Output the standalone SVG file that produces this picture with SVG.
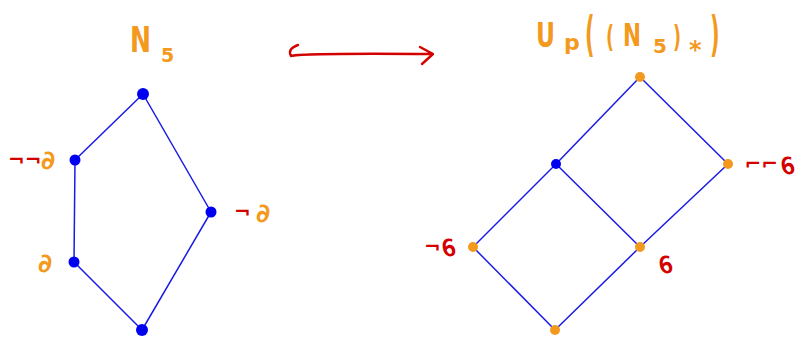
<svg xmlns="http://www.w3.org/2000/svg" width="796" height="339" viewBox="0 0 796 339">
<style>
.e{stroke:#1a1ae6;stroke-width:1.5;fill:none;stroke-linecap:round}
.b{fill:#0000f0}
.o{fill:#f39a1e}
.t{font-family:"DejaVu Sans","Liberation Sans",sans-serif;fill:#f39a1e;font-weight:bold}
.r{font-family:"DejaVu Sans","Liberation Sans",sans-serif;fill:#d40000;font-size:20px;font-weight:bold}
.a{font-family:"DejaVu Sans","Liberation Sans",sans-serif;font-size:26px;font-weight:bold}
</style>
<rect width="796" height="339" fill="#fff"/>
<g id="connectors">
<path class="e" d="M143,94 L75,160"/>
<path class="e" d="M143,94 L211,212"/>
<path class="e" d="M75,160 L74,262"/>
<path class="e" d="M74,262 L142,330"/>
<path class="e" d="M211,212 L142,330"/>
<path class="e" d="M640,77 L556,164"/>
<path class="e" d="M640,77 L728,164"/>
<path class="e" d="M556,164 L473,247"/>
<path class="e" d="M556,164 L640,247"/>
<path class="e" d="M728,164 L640,247"/>
<path class="e" d="M473,247 L555,330"/>
<path class="e" d="M640,247 L555,330"/>
<path id="arrow" d="M298,45 Q287,49 291,56 Q300,53 432,54 M420,47 L433,54 L422,64" fill="none" stroke="#d40000" stroke-width="2.4" stroke-linecap="round" stroke-linejoin="round"/>
</g>
<g id="title-left">
<text class="t" x="130" y="52" font-size="36" textLength="21" lengthAdjust="spacingAndGlyphs">N</text>
<text class="t" x="161" y="62" font-size="19">5</text>
</g>
<g id="title-right">
<text class="t" x="536" y="47" font-size="34" textLength="19" lengthAdjust="spacingAndGlyphs">U</text>
<text class="t" x="564" y="50" font-size="22">p</text>
<text class="t" transform="translate(585,51) scale(0.7,1.6)" x="0" y="0" font-size="30">(</text>
<text class="t" x="606" y="47" font-size="30" textLength="8" lengthAdjust="spacingAndGlyphs">(</text>
<text class="t" x="623" y="46" font-size="32" textLength="18" lengthAdjust="spacingAndGlyphs">N</text>
<text class="t" x="653" y="53" font-size="20">5</text>
<text class="t" x="673" y="47" font-size="30" textLength="8" lengthAdjust="spacingAndGlyphs">)</text>
<text class="t" x="689" y="58" font-size="24">*</text>
<text class="t" transform="translate(710,51) scale(0.7,1.6)" x="0" y="0" font-size="30">)</text>
</g>
<g id="n-top"><circle class="b" cx="143" cy="94" r="6"/></g>
<g id="n-nna"><circle class="b" cx="75" cy="160" r="5.5"/>
<text class="r" x="8" y="166">¬¬</text><text class="a" x="41" y="169" fill="#f39a1e">∂</text></g>
<g id="n-na"><circle class="b" cx="211" cy="212" r="5.5"/>
<text class="r" x="234" y="218">¬</text><text class="a" x="256" y="222" fill="#f39a1e">∂</text></g>
<g id="n-a"><circle class="b" cx="74" cy="262" r="5.5"/>
<text class="a" x="38" y="272" fill="#f39a1e">∂</text></g>
<g id="n-bot"><circle class="b" cx="142" cy="330" r="6"/></g>
<g id="m-top"><circle class="o" cx="640" cy="77" r="5"/></g>
<g id="m-blue"><circle class="b" cx="556" cy="164" r="5"/></g>
<g id="m-nna"><circle class="o" cx="728" cy="164" r="5"/>
<text class="r" transform="translate(778,170) scale(-1,1)" x="0" y="0">¬¬</text>
<text class="a" fill="#d40000" transform="translate(795,174) scale(-1,1)" x="0" y="0">∂</text></g>
<g id="m-na"><circle class="o" cx="473" cy="247" r="5"/>
<text class="r" x="424" y="253">¬</text>
<text class="a" fill="#d40000" transform="translate(456,256) scale(-1,1)" x="0" y="0">∂</text></g>
<g id="m-a"><circle class="o" cx="640" cy="247" r="5"/>
<text class="a" fill="#d40000" transform="translate(673,273) scale(-1,1)" x="0" y="0">∂</text></g>
<g id="m-bot"><circle class="o" cx="555" cy="330" r="5"/></g>
</svg>
